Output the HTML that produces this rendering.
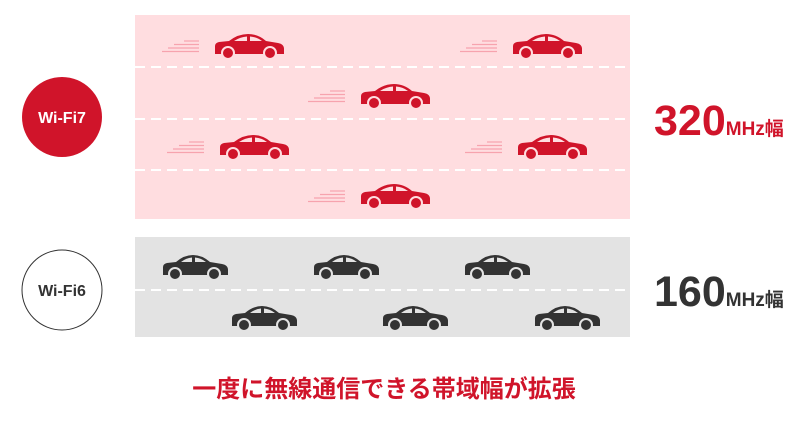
<!DOCTYPE html>
<html><head><meta charset="utf-8"><style>
body{margin:0;width:810px;height:426px;background:#fff;overflow:hidden;font-family:"Liberation Sans","Noto Sans CJK JP",sans-serif}
</style></head><body>
<svg width="810" height="426" viewBox="0 0 810 426" xmlns="http://www.w3.org/2000/svg" style="position:absolute;left:0;top:0">
<defs>
<g id="carR">
<path d="M1,22 L1,14 Q1,11 5,10 L15,9 Q24,2 34,2 Q44,2 52,9 L64,11 Q70,12 70,17 L70,22 Z" fill="#d0142a"/>
<path d="M20,9 Q26,5 33,4.5 L33,9 Z M36,4.5 Q43,5 48,9 L36,9 Z" fill="#ffdde0"/>
<circle cx="14" cy="21" r="6" fill="#d0142a" stroke="#ffdde0" stroke-width="2"/>
<circle cx="56" cy="21" r="6" fill="#d0142a" stroke="#ffdde0" stroke-width="2"/>
</g>
<g id="speed" stroke="#f7a3ae" stroke-width="1.2">
<line x1="22" y1="0" x2="37" y2="0"/><line x1="12" y1="3.5" x2="37" y2="3.5"/><line x1="6" y1="7" x2="37" y2="7"/><line x1="0" y1="10.5" x2="37" y2="10.5"/>
</g>
<g id="carG">
<path d="M1,22 L1,14 Q1,11 5,10 L14,9 Q22,2 31,2 Q40,2 48,9 L60,11 Q66,12 66,17 L66,22 Z" fill="#333"/>
<path d="M19,9 Q24,5 30,4.5 L30,9 Z M33,4.5 Q39,5 44,9 L33,9 Z" fill="#e3e3e3"/>
<circle cx="13" cy="21" r="6" fill="#333" stroke="#e3e3e3" stroke-width="2"/>
<circle cx="52" cy="21" r="6" fill="#333" stroke="#e3e3e3" stroke-width="2"/>
</g>
</defs>
<rect x="135" y="15" width="495" height="204" fill="#ffdde0"/>
<g stroke="#fff" stroke-width="2" stroke-dasharray="10,6">
<line x1="135" y1="67" x2="630" y2="67"/><line x1="135" y1="119" x2="630" y2="119"/><line x1="135" y1="170" x2="630" y2="170"/>
</g>
<use href="#speed" x="162" y="41"/><use href="#carR" x="214" y="32"/>
<use href="#speed" x="460" y="41"/><use href="#carR" x="512" y="32"/>
<use href="#speed" x="308" y="91"/><use href="#carR" x="360" y="82"/>
<use href="#speed" x="167" y="142"/><use href="#carR" x="219" y="133"/>
<use href="#speed" x="465" y="142"/><use href="#carR" x="517" y="133"/>
<use href="#speed" x="308" y="191"/><use href="#carR" x="360" y="182"/>
<rect x="135" y="237" width="495" height="100" fill="#e3e3e3"/>
<line x1="135" y1="290" x2="630" y2="290" stroke="#fff" stroke-width="2" stroke-dasharray="10,6"/>
<use href="#carG" x="162" y="253"/><use href="#carG" x="313" y="253"/><use href="#carG" x="464" y="253"/>
<use href="#carG" x="231" y="304"/><use href="#carG" x="382" y="304"/><use href="#carG" x="534" y="304"/>
<circle cx="62" cy="117" r="40" fill="#d0142a"/>
<text x="62" y="123" text-anchor="middle" font-size="16" font-weight="bold" fill="#fff" font-family="Liberation Sans, sans-serif">Wi-Fi7</text>
<circle cx="62" cy="290" r="40" fill="#fff" stroke="#333" stroke-width="1"/>
<text x="62" y="296" text-anchor="middle" font-size="16" font-weight="bold" fill="#333" font-family="Liberation Sans, sans-serif">Wi-Fi6</text>
<text x="654" y="135" font-weight="bold" fill="#d0142a" font-family="Liberation Sans, Noto Sans CJK JP, sans-serif"><tspan font-size="43">320</tspan><tspan font-size="19">MHz幅</tspan></text>
<text x="654" y="306" font-weight="bold" fill="#333" font-family="Liberation Sans, Noto Sans CJK JP, sans-serif"><tspan font-size="43">160</tspan><tspan font-size="19">MHz幅</tspan></text>
<text x="384" y="397" text-anchor="middle" font-size="24" font-weight="bold" fill="#d0142a" font-family="Noto Sans CJK JP, sans-serif">一度に無線通信できる帯域幅が拡張</text>
</svg>
</body></html>
